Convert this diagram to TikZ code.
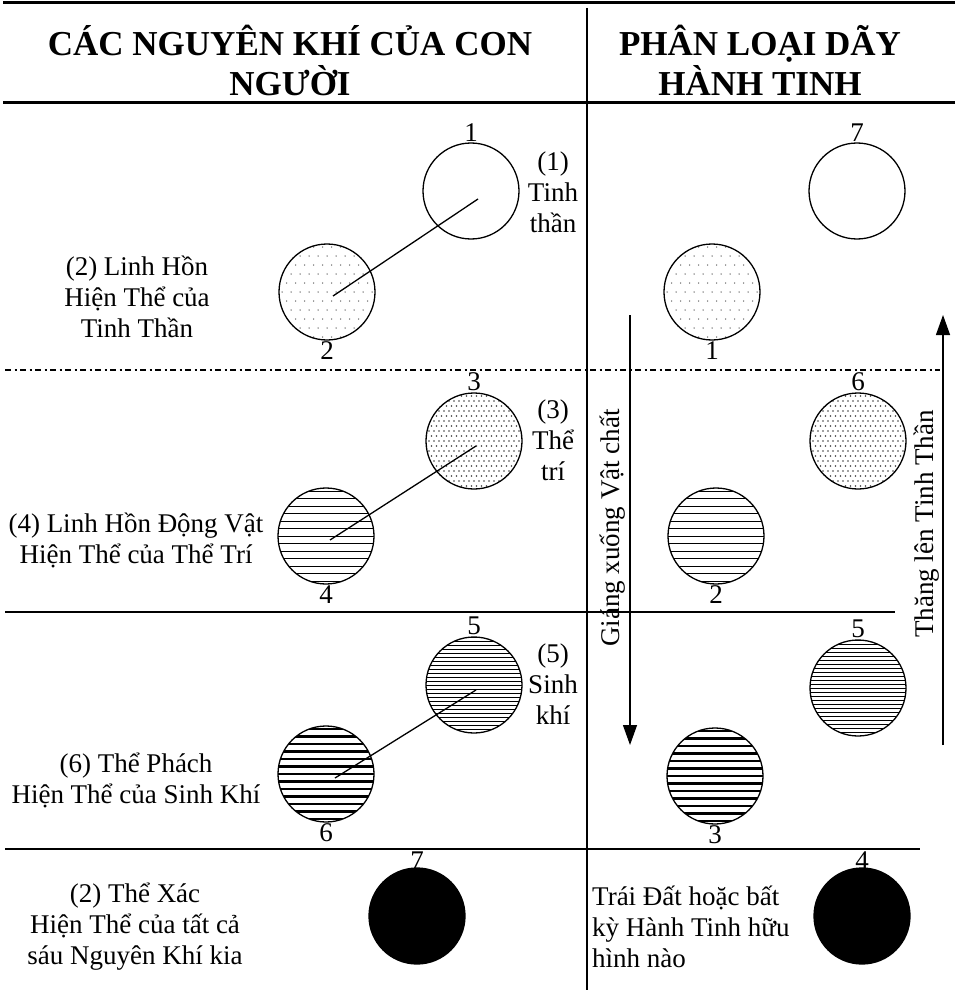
\documentclass[tikz,border=0pt]{standalone}
\usepackage{fontspec}
\setmainfont{Liberation Serif}
\usetikzlibrary{arrows.meta,calc}
\begin{document}
\begin{tikzpicture}[x=1pt,y=-1pt,
  ball/.style={circle, draw, line width=1.3pt, minimum size=96pt, inner sep=0pt},
  txt/.style={font=\fontsize{27}{31}\selectfont, align=center, inner sep=0pt},
  num/.style={font=\fontsize{27}{31}\selectfont, inner sep=1pt},
  hdr/.style={font=\bfseries\fontsize{35}{40}\selectfont, align=center, inner sep=0pt},
  thin/.style={line width=1.5pt},
  thick rule/.style={line width=3pt},
  conn/.style={line width=1.3pt},
  arr/.style={line width=1.3pt, -{Triangle[length=20pt,width=14pt]}},
  sparsedots/.style={path picture={
    \foreach \i in {-6,...,6}{\foreach \j in {-6,...,6}{
      \fill[black!60, shift={(path picture bounding box.center)}]
        ({\i*9pt+mod(abs(\j),2)*4.5pt},{\j*9pt}) circle (0.75pt);}}}},
  densedots/.style={path picture={
    \foreach \i in {-10,...,10}{\foreach \j in {-10,...,10}{
      \fill[black!75, shift={(path picture bounding box.center)}]
        ({\i*5pt+mod(abs(\j),2)*2.5pt},{\j*5pt}) circle (0.8pt);}}}},
  medlines/.style={path picture={
    \foreach \j in {-7,...,7}{
      \draw[line width=0.9pt, shift={(path picture bounding box.center)}]
        (-50pt,{\j*7.5pt}) -- (50pt,{\j*7.5pt});}}},
  finelines/.style={path picture={
    \foreach \j in {-12,...,12}{
      \draw[line width=0.7pt, shift={(path picture bounding box.center)}]
        (-50pt,{\j*4pt}) -- (50pt,{\j*4pt});}}},
  boldlines/.style={path picture={
    \foreach \j in {-7,...,7}{
      \draw[line width=2.2pt, shift={(path picture bounding box.center)}]
        (-50pt,{\j*7.5pt}) -- (50pt,{\j*7.5pt});}}},
  solidball/.style={ball, fill=black}
]
\useasboundingbox (0,0) rectangle (958,995);

% ---- rules ----
\coordinate (tl) at (3,3);     \coordinate (tr) at (955,3);
\coordinate (hl) at (3,103);   \coordinate (hr) at (955,103);
\coordinate (vt) at (587,8);   \coordinate (vb) at (587,990);
\coordinate (dl) at (5,370);   \coordinate (dr) at (940,370);
\coordinate (al) at (5,612);   \coordinate (ar) at (895,612);
\coordinate (bl) at (5,849);   \coordinate (br) at (920,849);
\draw[thick rule] (tl) -- (tr);
\draw[thick rule] (hl) -- (hr);
\draw[thin] (vt) -- (vb);
\draw[line width=1.3pt, dash pattern=on 6pt off 3.5pt on 2pt off 3.5pt] (dl) -- (dr);
\draw[thin] (al) -- (ar);
\draw[thin] (bl) -- (br);

% ---- headers ----
\node[hdr] (h1) at (290,60) {CÁC NGUYÊN KHÍ CỦA CON\\NGƯỜI};
\node[hdr] (h2) at (760,60) {PHÂN LOẠI DÃY\\HÀNH TINH};

% ---- left column circles ----
\node[ball] (c1) at (471,191) {};
\node[ball, sparsedots] (c2) at (327,292) {};
\node[ball, densedots] (c3) at (474,441) {};
\node[ball, medlines] (c4) at (326,536) {};
\node[ball, finelines] (c5) at (474,685) {};
\node[ball, boldlines] (c6) at (326,774) {};
\node[solidball] (c7) at (417,916) {};

\node[num, anchor=south] (n1) at (c1.north) {1};
\node[num, anchor=north] (n2) at (c2.south) {2};
\node[num, anchor=south] (n3) at (c3.north) {3};
\node[num, anchor=north] (n4) at (c4.south) {4};
\node[num, anchor=south] (n5) at (c5.north) {5};
\node[num, anchor=north] (n6) at (c6.south) {6};
\node[num, anchor=south, yshift=-3pt] (n7) at (c7.north) {7};

\draw[conn] ($(c1.center)+(7,8)$) -- ($(c2.center)+(6,4)$);
\draw[conn] ($(c3.center)+(2,5)$) -- ($(c4.center)+(4,4)$);
\draw[conn] ($(c5.center)+(2,5)$) -- ($(c6.center)+(9,4)$);

% ---- left texts ----
\node[txt] (t2) at (137,297) {(2) Linh Hồn\\Hiện Thể của\\Tinh Thần};
\node[txt] (t4) at (136,540) {(4) Linh Hồn Động Vật\\Hiện Thể của Thể Trí};
\node[txt] (t6) at (136,780) {(6) Thể Phách\\Hiện Thể của Sinh Khí};
\node[txt] (t7) at (135,927) {(2) Thể Xác\\Hiện Thể của tất cả\\sáu Nguyên Khí kia};

\node[txt] (t1) at (553,192) {(1)\\Tinh\\thần};
\node[txt] (t3) at (553,440) {(3)\\Thể\\trí};
\node[txt] (t5) at (553,684) {(5)\\Sinh\\khí};

% ---- right column circles ----
\node[ball] (r7) at (857,191) {};
\node[ball, sparsedots] (r1) at (712,292) {};
\node[ball, densedots] (r6) at (858,441) {};
\node[ball, medlines] (r2) at (716,536) {};
\node[ball, finelines] (r5) at (858,688) {};
\node[ball, boldlines] (r3) at (715,776) {};
\node[solidball] (r4) at (862,916) {};

\node[num, anchor=south] (m7) at (r7.north) {7};
\node[num, anchor=north] (m1) at (r1.south) {1};
\node[num, anchor=south] (m6) at (r6.north) {6};
\node[num, anchor=north] (m2) at (r2.south) {2};
\node[num, anchor=south] (m5) at (r5.north) {5};
\node[num, anchor=north] (m3) at (r3.south) {3};
\node[num, anchor=south, yshift=-3pt] (m4) at (r4.north) {4};

\node[txt, anchor=west, align=left] (tr4) at (592,927) {Trái Đất hoặc bất\\kỳ Hành Tinh hữu\\hình nào};

% ---- arrows ----
\coordinate (dtop) at (630,315); \coordinate (dbot) at (630,745);
\coordinate (ubot) at (943,745); \coordinate (utop) at (943,315);
\draw[arr] (dtop) -- (dbot);
\draw[arr] (ubot) -- (utop);
\node[txt, rotate=90] (gx) at (613,528) {Giáng xuống Vật chất};
\node[txt, rotate=90] (tl2) at (927,524) {Thăng lên Tinh Thần};
\end{tikzpicture}
\end{document}
